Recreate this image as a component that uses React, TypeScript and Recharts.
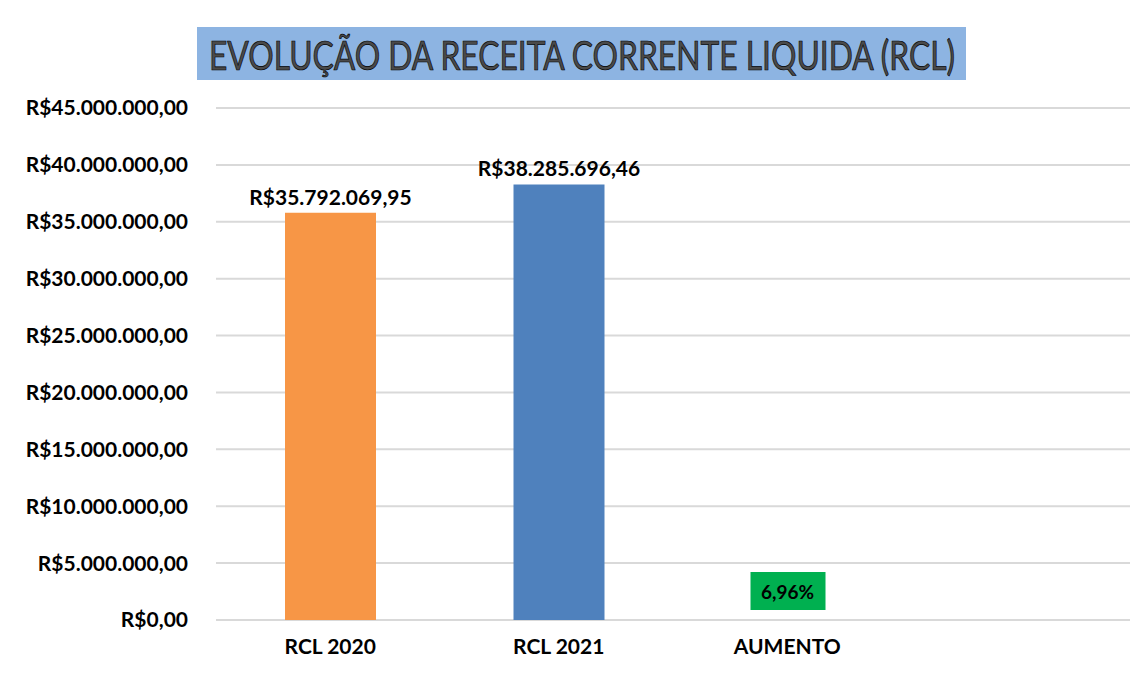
import React from 'react';
import { BarChart, Bar, XAxis, YAxis, CartesianGrid, Cell, LabelList } from 'recharts';

const categories = ['RCL 2020', 'RCL 2021', 'AUMENTO', ''];
const values: (number | null)[] = [35792069.95, 38285696.46, 0.0696, null];
const barColors = ['#F79646', '#4F81BD', '#00B050', '#FFFFFF'];
const yTicks = [0, 5000000, 10000000, 15000000, 20000000, 25000000, 30000000, 35000000, 40000000, 45000000];
const title = 'EVOLUÇÃO DA RECEITA CORRENTE LIQUIDA (RCL)';

const data = categories.map((name, i) => ({ name, value: values[i] }));

const FONT = 'Lato, "Open Sans", sans-serif';

function fmtBRL(v: number): string {
  const fixed = Math.abs(v).toFixed(2);
  const [intPart, dec] = fixed.split('.');
  const withDots = intPart.replace(/\B(?=(\d{3})+(?!\d))/g, '.');
  return 'R$' + withDots + ',' + dec;
}

function fmtPct(v: number): string {
  return (v * 100).toFixed(2).replace('.', ',') + '%';
}

const renderLabel = (props: any) => {
  const { x, y, width, value, index } = props;
  if (value == null) return null;
  const cx = Number(x) + Number(width) / 2;
  if (index === 2) {
    return (
      <g>
        <rect x={cx - 37} y={Number(y) - 48} width={75} height={38} fill="#00B050" />
        <text x={cx} y={Number(y) - 29} textAnchor="middle" dominantBaseline="central"
          fontFamily={FONT} fontWeight={700} fontSize={19} fill="#000">
          {fmtPct(Number(value))}
        </text>
      </g>
    );
  }
  return (
    <text x={cx} y={Number(y) - 8} textAnchor="middle" fontFamily={FONT} fontWeight={700}
      fontSize={21} fill="#000">
      {fmtBRL(Number(value))}
    </text>
  );
};

export default function App() {
  return (
    <div style={{ position: 'relative', width: 1140, height: 666, background: '#fff' }}>
      <div style={{ position: 'absolute', left: -1, top: -1, width: 1141, height: 667,
        borderTop: '1px solid #d9d9d9', borderLeft: '1px solid #d9d9d9', pointerEvents: 'none' }} />
      <BarChart width={1140} height={666} data={data}
        margin={{ top: 100, right: 18, bottom: 24, left: 0 }}>
        <CartesianGrid vertical={false} stroke="#d9d9d9" strokeWidth={2} />
        <XAxis dataKey="name" axisLine={false} tickLine={false} tickSize={0} tickMargin={19}
          height={30} interval={0}
          tick={{ fontFamily: FONT, fontWeight: 700, fontSize: 21, fill: '#000' }} />
        <YAxis domain={[0, 45000000]} ticks={yTicks} width={208} axisLine={false} tickLine={false}
          tickSize={0} tickMargin={28} tickFormatter={(v: number) => fmtBRL(v)}
          tick={{ fontFamily: FONT, fontWeight: 700, fontSize: 21, fill: '#000' }} />
        <Bar dataKey="value" barSize={91} isAnimationActive={false}>
          {data.map((d, i) => (
            <Cell key={i} fill={barColors[i]} />
          ))}
          <LabelList dataKey="value" content={renderLabel} />
        </Bar>
      </BarChart>
      <svg width={1140} height={100} style={{ position: 'absolute', left: 0, top: 0 }}>
        <rect x={189} y={19} width={769} height={53} fill="#8DB4E2" />
        <text x={574} y={47} textAnchor="middle" dominantBaseline="central" fontFamily={FONT}
          fontSize={40} fill="#4a4a4a" stroke="#000" strokeWidth={0.7}
          textLength={746} lengthAdjust="spacingAndGlyphs">
          {title}
        </text>
      </svg>
    </div>
  );
}
